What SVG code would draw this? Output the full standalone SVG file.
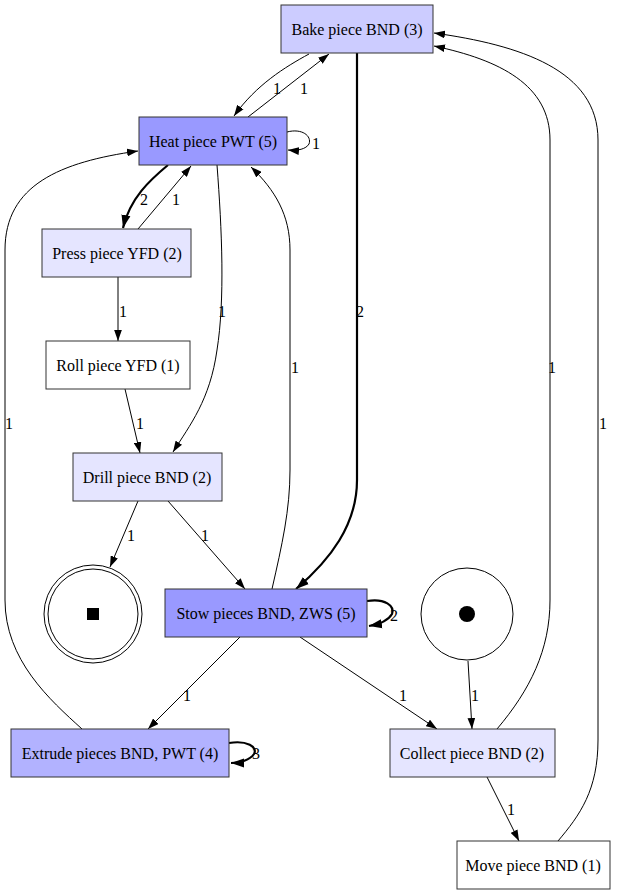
<svg xmlns="http://www.w3.org/2000/svg" width="617" height="893" viewBox="0 0 617 893">
<defs>
<marker id="a" viewBox="0 0 10 7" refX="10" refY="3.5" markerWidth="11" markerHeight="8" markerUnits="userSpaceOnUse" orient="auto"><path d="M0,0 L10,3.5 L0,7 z" fill="#000"/></marker>
<marker id="b" viewBox="0 0 10 7" refX="10" refY="3.5" markerWidth="13" markerHeight="10" markerUnits="userSpaceOnUse" orient="auto"><path d="M0,0 L10,3.5 L0,7 z" fill="#000"/></marker>
</defs>
<style>
rect{stroke:#333;stroke-width:1}
text{font-family:"Liberation Serif","Times New Roman",Times,serif;font-size:16px;text-anchor:middle;fill:#000}
.e{fill:none;stroke:#000;stroke-width:1;marker-end:url(#a)}
.eb{fill:none;stroke:#000;stroke-width:2.2;marker-end:url(#b)}
</style>
<rect width="617" height="893" fill="#fff" style="stroke:none"/>
<g id="edges">
<path class="e" d="M248,117 L329,54"/>
<path class="e" d="M309,54 C285,67 256,85 234,116"/>
<path class="e" d="M287,132 C302,128 312,136 309,144 C306,149 298,151 288,150"/>
<path class="eb" d="M168,165 C150,180 130,198 123,228"/>
<path class="e" d="M138,229 L191,166"/>
<path class="e" d="M217,165 C222,230 225,300 217,350 C210,400 190,425 173,452"/>
<path class="e" d="M118,277 L118,341"/>
<path class="e" d="M125,389 L140,453"/>
<path class="e" d="M138,501 L110,567"/>
<path class="e" d="M168,501 L245,589"/>
<path class="e" d="M272,589 C282,545 290,510 290,470 L290,250 C290,215 275,190 251,167"/>
<path class="eb" d="M357,53 L357,480 C357,525 330,560 296,589"/>
<path class="eb" d="M367,601 C385,598 395,606 392,614 C388,621 380,624 369,626"/>
<path class="e" d="M240,637 L148,729"/>
<path class="e" d="M300,637 L437,729"/>
<path class="e" d="M468,661 L472,729"/>
<path class="eb" d="M229,743 C247,740 258,747 254,754 C250,760 240,763 231,763"/>
<path class="e" d="M82,729 C50,700 5,660 5,600 L5,250 C5,185 60,162 138,151"/>
<path class="e" d="M497,729 C530,690 550,650 550,600 L550,140 C550,85 500,60 434,46"/>
<path class="e" d="M487,777 L519,841"/>
<path class="e" d="M558,841 C580,815 598,790 598,740 L598,140 C598,70 520,45 434,33"/>
<text x="277" y="94">1</text>
<text x="304" y="94">1</text>
<text x="316" y="149">1</text>
<text x="144" y="205">2</text>
<text x="176" y="205">1</text>
<text x="222" y="317">1</text>
<text x="123" y="317">1</text>
<text x="295" y="373">1</text>
<text x="9" y="429">1</text>
<text x="140" y="429">1</text>
<text x="360" y="317">2</text>
<text x="131" y="541">1</text>
<text x="205" y="541">1</text>
<text x="394" y="621">2</text>
<text x="187" y="701">1</text>
<text x="403" y="701">1</text>
<text x="475" y="701">1</text>
<text x="256" y="759">3</text>
<text x="552" y="373">1</text>
<text x="603" y="429">1</text>
<text x="511" y="815">1</text>
</g>
<g id="bake"><rect x="281" y="5" width="152" height="48" fill="#ccccff"/><text x="357" y="35">Bake piece BND (3)</text></g>
<g id="heat"><rect x="139" y="117" width="148" height="48" fill="#9999ff"/><text x="213" y="147">Heat piece PWT (5)</text></g>
<g id="press"><rect x="42" y="229" width="149" height="48" fill="#e5e5ff"/><text x="117" y="259">Press piece YFD (2)</text></g>
<g id="roll"><rect x="46" y="341" width="144" height="48" fill="#ffffff"/><text x="118" y="371">Roll piece YFD (1)</text></g>
<g id="drill"><rect x="73" y="453" width="149" height="48" fill="#e5e5ff"/><text x="147" y="483">Drill piece BND (2)</text></g>
<g id="final"><circle cx="93" cy="614" r="49" fill="none" stroke="#000"/><circle cx="93" cy="614" r="45" fill="none" stroke="#000"/><rect x="87" y="608" width="12" height="12" fill="#000" style="stroke:none"/></g>
<g id="stow"><rect x="165" y="589" width="202" height="48" fill="#9999ff"/><text x="266" y="619">Stow pieces BND, ZWS (5)</text></g>
<g id="initial"><circle cx="467" cy="614" r="46" fill="none" stroke="#000"/><circle cx="467" cy="614" r="8" fill="#000"/></g>
<g id="extrude"><rect x="11" y="729" width="218" height="48" fill="#b2b2ff"/><text x="120" y="759">Extrude pieces BND, PWT (4)</text></g>
<g id="collect"><rect x="390" y="729" width="165" height="48" fill="#e5e5ff"/><text x="472" y="759">Collect piece BND (2)</text></g>
<g id="move"><rect x="457" y="841" width="153" height="48" fill="#ffffff"/><text x="533" y="871">Move piece BND (1)</text></g>
</svg>
